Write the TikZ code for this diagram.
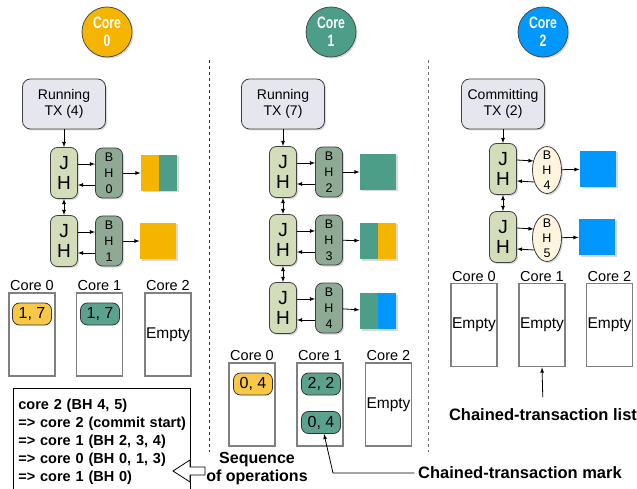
\documentclass[tikz,border=0pt]{standalone}
\usepackage{fontspec}
\setmainfont{Liberation Sans}
\newfontfamily\condfont[FakeStretch=0.74]{Liberation Sans}
\usetikzlibrary{positioning,shadows,shapes.geometric}

\definecolor{coreyellow}{HTML}{F5B400}
\definecolor{coregreen}{HTML}{4D9E88}
\definecolor{coreblue}{HTML}{0098FF}
\definecolor{pillyellow}{HTML}{F9C846}
\definecolor{pillgreen}{HTML}{5AA28D}
\definecolor{jhfill}{HTML}{D4DDBA}
\definecolor{bhfill}{HTML}{8EAA95}
\definecolor{bhcream}{HTML}{FFF4DE}
\definecolor{txfill}{HTML}{E6E6EE}

\begin{document}
\begin{tikzpicture}[x=1pt,y=-1pt,>=latex,line width=0.8pt,
        every node/.style={font=\fontsize{14}{16.5}\selectfont},
        shade/.style={drop shadow={opacity=0.3,shadow xshift=1.5pt,shadow yshift=-1.5pt}},
        corecirc/.style={circle,draw=black!70,minimum size=50pt,inner sep=0pt,align=center,
            text=white,font=\condfont\bfseries\fontsize{16.5}{18}\selectfont,shade},
        txbox/.style={rounded corners=8pt,draw=black!75,fill=txfill,minimum width=83pt,
            minimum height=50pt,inner sep=0pt,align=center,shade},
        jh/.style={rounded corners=7pt,draw=black!75,fill=jhfill,minimum width=27pt,
            minimum height=51pt,inner sep=0pt,align=center,font=\fontsize{19}{20}\selectfont,shade},
        bh/.style={rounded corners=7pt,draw=black!75,fill=bhfill,minimum width=27pt,
            minimum height=50pt,inner sep=0pt,align=center,font=\fontsize{12.5}{16}\selectfont,shade},
        bhe/.style={ellipse,draw=black!75,fill=bhcream,minimum width=29pt,minimum height=47pt,
            inner xsep=0pt,inner ysep=-5pt,align=center,font=\fontsize{12.5}{15}\selectfont,shade},
        sq/.style={minimum size=36pt,inner sep=0pt,shade},
        half/.style={path picture={\fill[#1] (path picture bounding box.south west)
            rectangle (path picture bounding box.north);}},
        lst/.style={draw=black!50,line width=1.8pt,minimum width=46pt,minimum height=83pt,
            inner sep=0pt,font=\fontsize{15.5}{17}\selectfont},
        lstlbl/.style={inner sep=1pt,font=\fontsize{14.5}{16}\selectfont},
        pill/.style={rounded corners=7pt,draw=black!80,minimum width=39pt,minimum height=22pt,
            inner sep=0pt,font=\fontsize{16}{18}\selectfont},
        bigbold/.style={font=\bfseries\fontsize{16.5}{18}\selectfont}]
    \clip (0,0) rectangle (637,489);

    % core headers
    \node[corecirc,fill=coreyellow] (core0) at (107,32) {Core\\0};
    \node[corecirc,fill=coregreen] (core1) at (331,32) {Core\\1};
    \node[corecirc,fill=coreblue] (core2) at (543,32) {Core\\2};

    % separators
    \draw[dashed,black!80] (209,60) -- (209,452);
    \draw[dashed,black!55] (428,60) -- (428,452);

    % core 0
    \node[txbox] (tx0) at (64,104) {Running\\TX (4)};
    \node[jh] (jh0a) at (64,173) {J\\H};
    \node[bh] (bh0) at (109,173) {B\\H\\0};
    \node[sq,fill=coregreen,half=coreyellow] (sq0) at (159,173) {};
    \node[jh] (jh0b) at (64,241) {J\\H};
    \node[bh] (bh1) at (109,241) {B\\H\\1};
    \node[sq,fill=coreyellow] (sq1) at (158,241) {};
    \draw[->] (tx0) -- (jh0a);
    \draw[<->] (jh0a) -- (jh0b);
    \draw[->] ([yshift=9pt]jh0a.east) -- ([yshift=9pt]bh0.west);
    \draw[->] ([yshift=-12pt]bh0.west) -- ([yshift=-12pt]jh0a.east);
    \draw[->] (bh0) -- (sq0);
    \draw[->] ([yshift=9pt]jh0b.east) -- ([yshift=9pt]bh1.west);
    \draw[->] ([yshift=-12pt]bh1.west) -- ([yshift=-12pt]jh0b.east);
    \draw[->] (bh1) -- (sq1);

    % core 1
    \node[txbox] (tx1) at (283,104) {Running\\TX (7)};
    \node[jh] (jh1a) at (283,172) {J\\H};
    \node[bh] (bh2) at (329,172) {B\\H\\2};
    \node[sq,fill=coregreen] (sq2) at (378,172) {};
    \node[jh] (jh1b) at (283,240) {J\\H};
    \node[bh] (bh3) at (329,240) {B\\H\\3};
    \node[sq,fill=coreyellow,half=coregreen] (sq3) at (378,241) {};
    \node[jh] (jh1c) at (283,308) {J\\H};
    \node[bh] (bh4) at (329,308) {B\\H\\4};
    \node[sq,fill=coreblue,half=coregreen] (sq4) at (378,311) {};
    \draw[->] (tx1) -- (jh1a);
    \draw[<->] (jh1a) -- (jh1b);
    \draw[<->] (jh1b) -- (jh1c);
    \draw[->] ([yshift=9pt]jh1a.east) -- ([yshift=9pt]bh2.west);
    \draw[->] ([yshift=-12pt]bh2.west) -- ([yshift=-12pt]jh1a.east);
    \draw[->] (bh2) -- (sq2);
    \draw[->] ([yshift=9pt]jh1b.east) -- ([yshift=9pt]bh3.west);
    \draw[->] ([yshift=-12pt]bh3.west) -- ([yshift=-12pt]jh1b.east);
    \draw[->] (bh3) -- (sq3);
    \draw[->] ([yshift=9pt]jh1c.east) -- ([yshift=9pt]bh4.west);
    \draw[->] ([yshift=-12pt]bh4.west) -- ([yshift=-12pt]jh1c.east);
    \draw[->] (bh4) -- (sq4);

    % core 2
    \node[txbox] (tx2) at (503,104) {Committing\\TX (2)};
    \node[jh] (jh2a) at (503,169) {J\\H};
    \node[bhe] (bh4e) at (547,170) {B\\H\\4};
    \node[sq,fill=coreblue] (sq5) at (598,169) {};
    \node[jh] (jh2b) at (503,237) {J\\H};
    \node[bhe] (bh5e) at (547,238) {B\\H\\5};
    \node[sq,fill=coreblue] (sq6) at (597,237) {};
    \draw[->] (tx2) -- (jh2a);
    \draw[<->] (jh2a) -- (jh2b);
    \draw[->] ([yshift=9pt]jh2a.east) -- ([yshift=9pt,xshift=1.5pt]bh4e.west);
    \draw[->] ([yshift=-12pt,xshift=2pt]bh4e.west) -- ([yshift=-12pt]jh2a.east);
    \draw[->] (bh4e) -- (sq5);
    \draw[->] ([yshift=9pt]jh2b.east) -- ([yshift=9pt,xshift=1.5pt]bh5e.west);
    \draw[->] ([yshift=-12pt,xshift=2pt]bh5e.west) -- ([yshift=-12pt]jh2b.east);
    \draw[->] (bh5e) -- (sq6);

    % lists under core 0
    \node[lst,label={[lstlbl]above:Core 0}] (la) at (32,334.5) {};
    \node[lst,label={[lstlbl]above:Core 1}] (lb) at (99.5,334.5) {};
    \node[lst,label={[lstlbl]above:Core 2}] (lc) at (168,334.5) {Empty};
    \node[pill,fill=pillyellow] (pa) at (32,314) {1, 7};
    \node[pill,fill=pillgreen] (pb) at (100,314) {1, 7};

    % lists under core 1
    \node[lst,label={[lstlbl]above:Core 0}] (ma) at (252,404.5) {};
    \node[lst,label={[lstlbl]above:Core 1}] (mb) at (320,404.5) {};
    \node[lst,label={[lstlbl]above:Core 2}] (mc) at (388.5,404.5) {Empty};
    \node[pill,fill=pillyellow] (pc) at (253,384) {0, 4};
    \node[pill,fill=pillgreen] (pd) at (321,384) {2, 2};
    \node[pill,fill=pillgreen] (pe) at (321,422.5) {0, 4};

    % lists under core 2
    \node[lst,label={[lstlbl]above:Core 0}] (ra) at (474,325) {Empty};
    \node[lst,label={[lstlbl]above:Core 1}] (rb) at (542,325) {Empty};
    \node[lst,label={[lstlbl]above:Core 2}] (rc) at (609.5,325) {Empty};

    % notes
    \node[bigbold] (chlist) at (543,415) {Chained-transaction list};
    \draw[->,shorten <=8pt] (chlist.north) -- (rb.south);
    \node[bigbold] (mark) at (520,473) {Chained-transaction mark};
    \coordinate (bend) at (333,473);
    \draw[->] (mark.west) -- (bend) -- ([xshift=3pt]pe.south);

    % sequence of operations
    \node[draw,anchor=north west,align=left,inner xsep=5pt,inner ysep=11pt,text width=167pt,
        font=\bfseries\fontsize{14.5}{18}\selectfont] (ops) at (13,388)
        {\mbox{core 2 (BH 4, 5)}\\\mbox{=> core 2 (commit start)}\\\mbox{=> core 1 (BH 2, 3, 4)}\\
         \mbox{=> core 0 (BH 0, 1, 3)}\\\mbox{=> core 1 (BH 0)}};
    \node[bigbold,align=center,font=\bfseries\fontsize{16}{18}\selectfont] (seq) at (257,469)
        {Sequence\\of operations};
    \draw[fill=white] (173,471) -- (190,460) -- (190,467) -- (205,467) -- (205,475)
        -- (190,475) -- (190,482) -- cycle;
\end{tikzpicture}
\end{document}
